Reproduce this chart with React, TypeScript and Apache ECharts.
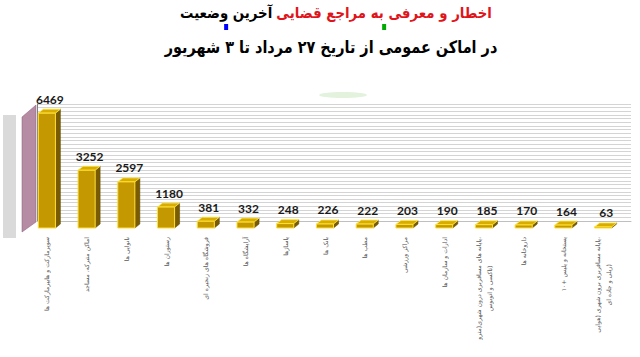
import React, { useEffect, useRef } from "react";
import * as echarts from "echarts";

const categories: string[] = [
  "سوپرمارکت و هایپرمارکت ها",
  "اماکن متبرکه، مساجد",
  "نانوایی ها",
  "رستوران ها",
  "فروشگاه های زنجیره ای",
  "آرایشگاه ها",
  "پاساژها",
  "بانک ها",
  "مطب ها",
  "مراکز ورزشی",
  "ادارات و سازمان ها",
  "پایانه های مسافربری درون شهری(مترو،\nتاکسی و اتوبوس)",
  "داروخانه ها",
  "پستخانه و پلیس +۱۰",
  "پایانه مسافربری برون شهری (هوایی،\nریلی و جاده ای)",
];

const values: number[] = [6469, 3252, 2597, 1180, 381, 332, 248, 226, 222, 203, 190, 185, 170, 164, 63];

const titleBlack = "آخرین وضعیت";
const titleRed = "اخطار و معرفی به مراجع قضایی";
const subtitle = "در اماکن عمومی از تاریخ ۲۷ مرداد تا ۳ شهریور";

const FA = "'DejaVu Sans', sans-serif";

export default function App() {
  const ref = useRef<HTMLDivElement>(null);
  useEffect(() => {
    if (!ref.current) return;
    const chart = echarts.init(ref.current, null, { renderer: "svg" });

    const ctx = document.createElement("canvas").getContext("2d") as CanvasRenderingContext2D;
    ctx.font = `bold 15px ${FA}`;
    const wB = ctx.measureText(titleBlack).width || 104;
    const wR = ctx.measureText(titleRed).width || 243;
    const t1Left = 180;
    const t1Width = 312;
    const gap = 4;
    const s1 = (t1Width - gap) / (wB + wR);
    const cB = t1Left + (s1 * wB) / 2;
    const cR = t1Left + s1 * wB + gap + (s1 * wR) / 2;

    const option: any = {
      animation: false,
      backgroundColor: "#ffffff",
      grid: [
        { left: 27, right: 17, top: 103.7, bottom: 129, outerBoundsMode: "none", containLabel: false },
        { left: 37, right: 9, top: 104, bottom: 136, outerBoundsMode: "none", containLabel: false },
      ],
      xAxis: [
        {
          type: "category",
          gridIndex: 0,
          data: categories,
          axisLine: { show: false },
          axisTick: { show: false },
          axisLabel: {
            interval: 0,
            rotate: 90,
            margin: 9,
            fontFamily: FA,
            fontSize: 6.2,
            lineHeight: 11,
            color: "#595959",
            formatter: (v: string) =>
              v
                .split("\n")
                .map((l) => `{c|${l}}`)
                .join("\n"),
            rich: { c: { align: "center", fontFamily: FA, fontSize: 6.2, color: "#595959", lineHeight: 11 } },
          },
        },
        {
          type: "value",
          gridIndex: 1,
          min: 0,
          max: 1,
          axisLine: { show: true, lineStyle: { color: "#bfbfbf", width: 1 } },
          axisTick: { show: false },
          axisLabel: { show: false },
          splitLine: { show: false },
        },
      ],
      yAxis: [
        { type: "value", gridIndex: 0, min: 0, max: 7000, show: false },
        {
          type: "value",
          gridIndex: 1,
          min: 0,
          max: 6400,
          interval: 200,
          position: "right",
          axisLine: { show: true, lineStyle: { color: "#7f7f7f", width: 1 } },
          axisTick: { show: false },
          axisLabel: { show: false },
          splitLine: { show: true, lineStyle: { color: "#d4d4d4", width: 1 } },
        },
      ],
      graphic: [
        { type: "rect", z: 1, shape: { x: 3, y: 115, width: 13, height: 123 }, style: { fill: "#dadada" } },
        {
          type: "polygon",
          z: 1,
          shape: { points: [[22, 117], [36, 105], [36, 222], [22, 232]] },
          style: { fill: "#b58ca3", stroke: "#8a5a78", lineWidth: 0.5 },
        },
        { type: "ellipse", z: 1, shape: { cx: 343, cy: 95, rx: 24, ry: 3 }, style: { fill: "#e3f2dc" } },
        // debug markers
        { type: "rect", shape: { x: cB - 2, y: 24, width: 4, height: 6 }, style: { fill: "#0000ff" } },
        { type: "rect", shape: { x: cR - 2, y: 24, width: 4, height: 6 }, style: { fill: "#00aa00" } },
        {
          type: "text",
          x: cB,
          y: 13,
          scaleX: s1,
          style: {
            text: titleBlack,
            textAlign: "center",
            textVerticalAlign: "middle",
            fill: "#000000",
            fontFamily: FA,
            fontSize: 15,
            fontWeight: "bold",
          },
        },
        {
          type: "text",
          x: cR,
          y: 13,
          scaleX: s1,
          style: {
            text: titleRed,
            textAlign: "center",
            textVerticalAlign: "middle",
            fill: "#e0141b",
            fontFamily: FA,
            fontSize: 15,
            fontWeight: "bold",
          },
        },
        {
          type: "text",
          x: 331,
          y: 47,
          scaleX: 0.85,
          style: {
            text: subtitle,
            textAlign: "center",
            textVerticalAlign: "middle",
            fill: "#000000",
            fontFamily: FA,
            fontSize: 17,
            fontWeight: "bold",
          },
        },
      ],
      series: [
        {
          type: "custom",
          xAxisIndex: 0,
          yAxisIndex: 0,
          z: 5,
          data: values.map((v, i) => [i, v]),
          renderItem: (params: any, api: any) => {
            const i = api.value(0);
            const v = api.value(1);
            const top = api.coord([i, v]);
            const base = api.coord([i, 0]);
            const bw = api.size([1, 0])[0] * 0.43;
            const x0 = top[0] - bw / 2;
            const x1 = top[0] + bw / 2;
            const dx = 5;
            const dy = 4;
            const h = Math.max(base[1] - top[1], 1);
            return {
              type: "group",
              children: [
                {
                  type: "polygon",
                  shape: { points: [[x1, base[1] - h], [x1 + dx, base[1] - h - dy], [x1 + dx, base[1] - dy], [x1, base[1]]] },
                  style: { fill: "#7a5c00", stroke: "#5e4700", lineWidth: 0.5 },
                },
                {
                  type: "polygon",
                  shape: { points: [[x0, base[1] - h], [x0 + dx, base[1] - h - dy], [x1 + dx, base[1] - h - dy], [x1, base[1] - h]] },
                  style: { fill: "#d9ad00", stroke: "#ffe84d", lineWidth: 0.8 },
                },
                {
                  type: "rect",
                  shape: { x: x0, y: base[1] - h, width: bw, height: h },
                  style: { fill: "#c49800", stroke: "#ffe033", lineWidth: 1 },
                },
                {
                  type: "text",
                  x: top[0] + 3,
                  y: top[1] - 14,
                  style: {
                    text: String(v),
                    textAlign: "center",
                    textVerticalAlign: "middle",
                    fill: "#1a1a1a",
                    fontFamily: "Lato, 'Open Sans', sans-serif",
                    fontSize: 12,
                    fontWeight: "bold",
                  },
                },
              ],
            };
          },
        },
      ],
    };
    chart.setOption(option);
    return () => chart.dispose();
  }, []);
  return <div ref={ref} style={{ position: "fixed", left: 0, top: 0, width: 640, height: 357, background: "#fff" }} />;
}
